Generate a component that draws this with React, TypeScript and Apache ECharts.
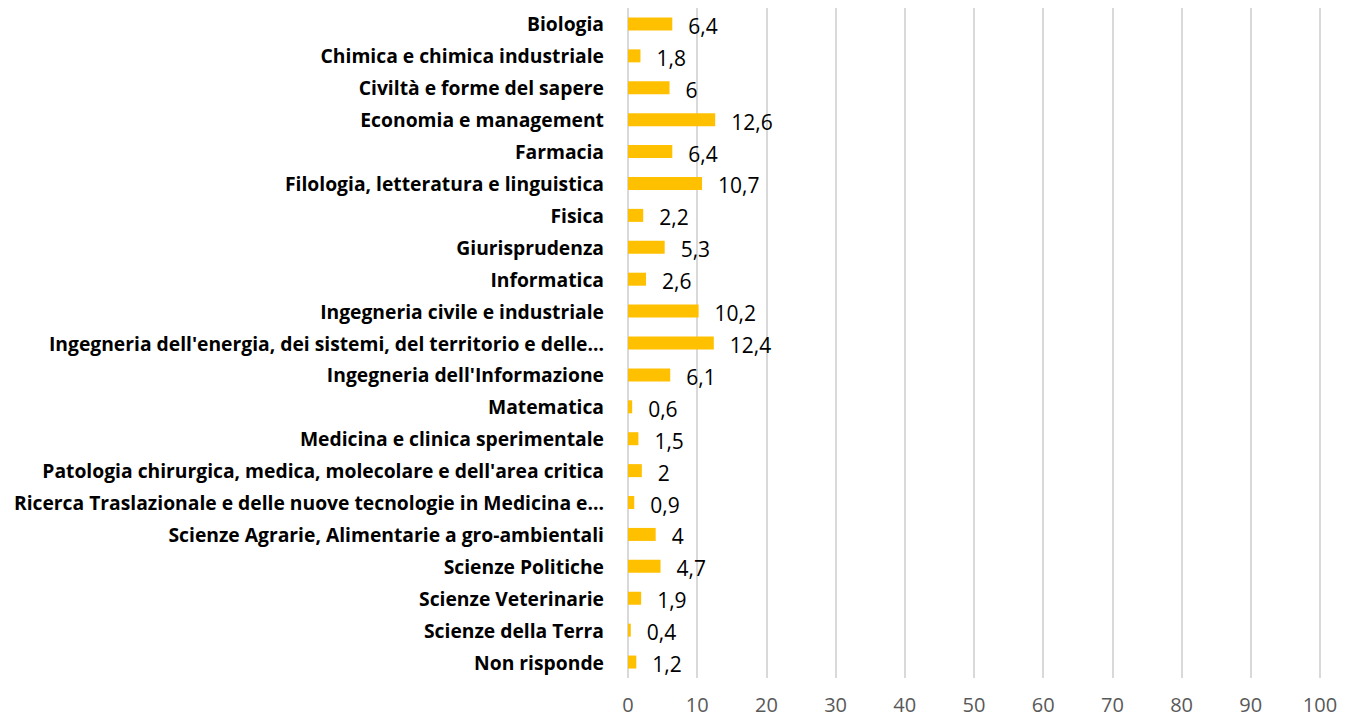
import React, { useEffect, useRef } from "react";
import * as echarts from "echarts";

const categories = [
  "Biologia",
  "Chimica e chimica industriale",
  "Civiltà e forme del sapere",
  "Economia e management",
  "Farmacia",
  "Filologia, letteratura e linguistica",
  "Fisica",
  "Giurisprudenza",
  "Informatica",
  "Ingegneria civile e industriale",
  "Ingegneria dell'energia, dei sistemi, del territorio e delle…",
  "Ingegneria dell'Informazione",
  "Matematica",
  "Medicina e clinica sperimentale",
  "Patologia chirurgica, medica, molecolare e dell'area critica",
  "Ricerca Traslazionale e delle nuove tecnologie in Medicina e…",
  "Scienze Agrarie, Alimentarie a gro-ambientali",
  "Scienze Politiche",
  "Scienze Veterinarie",
  "Scienze della Terra",
  "Non risponde",
];

const values = [6.4, 1.8, 6, 12.6, 6.4, 10.7, 2.2, 5.3, 2.6, 10.2, 12.4, 6.1, 0.6, 1.5, 2, 0.9, 4, 4.7, 1.9, 0.4, 1.2];

const FONT = "'Open Sans', sans-serif";

export default function App() {
  const ref = useRef<HTMLDivElement>(null);
  useEffect(() => {
    if (!ref.current) return;
    const chart = echarts.init(ref.current, null, { renderer: "svg" });
    chart.setOption({
      animation: false,
      backgroundColor: "#ffffff",
      grid: {
        left: 628,
        right: 35,
        top: 8,
        bottom: 42,
        containLabel: false,
        outerBoundsMode: "none",
      },
      xAxis: {
        type: "value",
        min: 0,
        max: 100,
        interval: 10,
        axisLine: { show: false },
        axisTick: { show: false },
        splitLine: { show: true, lineStyle: { color: "#d9d9d9", width: 2 } },
        axisLabel: { color: "#595959", fontSize: 20, fontFamily: FONT, margin: 16 },
      },
      yAxis: {
        type: "category",
        inverse: true,
        data: categories,
        axisLine: { show: false },
        axisTick: { show: false },
        axisLabel: {
          color: "#000000",
          fontWeight: "bold",
          fontSize: 19.3,
          fontFamily: FONT,
          margin: 24,
        },
      },
      series: [
        {
          type: "bar",
          data: values,
          barWidth: 13,
          itemStyle: { color: "#FFC000" },
          label: {
            show: true,
            position: "right",
            distance: 16,
            color: "#000000",
            fontSize: 21,
            fontFamily: FONT,
            offset: [0, 2],
            formatter: (p: any) => String(p.value).replace(".", ","),
          },
        },
      ],
    });
    return () => chart.dispose();
  }, []);
  return (
    <div
      ref={ref}
      style={{ position: "fixed", left: 0, top: 0, width: 1355, height: 720 }}
    />
  );
}
